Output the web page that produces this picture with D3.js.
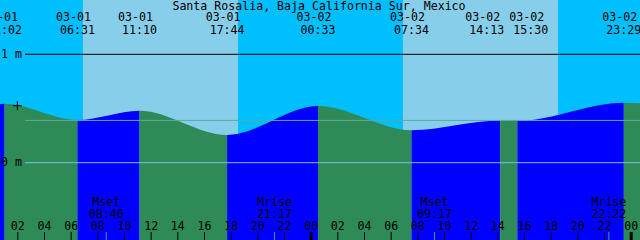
<!DOCTYPE html>
<html>
<head>
<meta charset="utf-8">
<script src="https://cdn.jsdelivr.net/npm/d3@7"></script>
<style>
  html, body { margin: 0; padding: 0; background: #fff; }
  svg { display: block; }
  text { font-family: "DejaVu Sans Mono", monospace; font-size: 11.6px; fill: #000; }
</style>
</head>
<body>
<script>
const width = 640;
const height = 240;

const title = 'Santa Rosalia, Baja California Sur, Mexico';

// high and low tides, heights in metres
const tideDates = ['03-01', '03-01', '03-01', '03-01', '03-02', '03-02', '03-02', '03-02', '03-02'];
const tideTimes = ['01:02', '06:31', '11:10', '17:44', '00:33', '07:34', '14:13', '15:30', '23:29'];
const tideHeights = [0.544, 0.394, 0.480, 0.256, 0.523, 0.300, 0.389, 0.385, 0.553];

// water level at the left and right edge of the graph
const edgeTimes = ['03-01 00:42', '03-03 00:42'];
const edgeHeights = [0.540, 0.548];

// sunrise, sunset, sunrise, sunset
const sunTimes = ['03-01 06:55', '03-01 18:33', '03-02 06:55', '03-02 18:33'];

const moonNames = ['Mset', 'Mrise', 'Mset', 'Mrise'];
const moonDates = ['03-01', '03-01', '03-02', '03-02'];
const moonTimes = ['08:40', '21:17', '09:17', '22:22'];

const levelValues = [1, 0];
const levelLabels = ['1 m', '0 m'];
const meanLevel = 0.39;

const nowTime = '03-01 02:00';
const nowHeight = 0.526;

const hourTicks = [2, 4, 6, 8, 10, 12, 14, 16, 18, 20, 22, 24, 26, 28, 30, 32, 34, 36, 38, 40, 42, 44, 46, 48]; // hours since 03-01 00:00

// "03-02 07:34" -> hours since 03-01 00:00
const toHours = (s) => {
  const day = +s.slice(3, 5);
  const hh = +s.slice(6, 8);
  const mm = +s.slice(9, 11);
  return (day - 1) * 24 + hh + mm / 60;
};

const x = d3.scaleLinear()
            .domain([toHours(edgeTimes[0]), toHours(edgeTimes[1])])
            .range([0, width]);

const y = d3.scaleLinear()
            .domain([0, 1])
            .range([162.7, 54.3]);

const svg = d3.select('body')
              .append('svg')
              .attr('width', width)
              .attr('height', height);

// sky: night everywhere, then daytime bands
svg.append('rect')
   .attr('width', width)
   .attr('height', height)
   .attr('fill', '#00bfff');

for (let i = 0; i < sunTimes.length; i += 2) {
  const x0 = x(toHours(sunTimes[i]));
  const x1 = x(toHours(sunTimes[i + 1]));
  svg.append('rect')
     .attr('x', x0)
     .attr('width', x1 - x0)
     .attr('height', height)
     .attr('fill', '#87ceeb');
}

// water under the tide curve
const pts = [{t: toHours(edgeTimes[0]), h: edgeHeights[0]}];
tideTimes.forEach((tm, i) => pts.push({t: toHours(tideDates[i] + ' ' + tm), h: tideHeights[i]}));
pts.push({t: toHours(edgeTimes[1]), h: edgeHeights[1]});

const area = d3.area()
               .x((d) => x(d.t))
               .y0(height)
               .y1((d) => y(d.h))
               .curve(d3.curveMonotoneX);

svg.append('clipPath')
   .attr('id', 'water')
   .append('path')
   .attr('d', area(pts));

const water = svg.append('g').attr('clip-path', 'url(#water)');

for (let i = 0; i < pts.length - 1; i++) {
  const x0 = x(pts[i].t);
  const x1 = x(pts[i + 1].t);
  water.append('rect')
       .attr('x', x0)
       .attr('width', x1 - x0)
       .attr('height', height)
       .attr('fill', pts[i + 1].h > pts[i].h ? '#0000ff' : '#2e8b57'); // flood blue, ebb green
}

// level lines
svg.append('line')
   .attr('x1', 25).attr('x2', width)
   .attr('y1', y(1)).attr('y2', y(1))
   .attr('stroke', '#000');

svg.append('line')
   .attr('x1', 25).attr('x2', width)
   .attr('y1', y(meanLevel)).attr('y2', y(meanLevel))
   .attr('stroke', '#5faaa0');

svg.append('line')
   .attr('x1', 25).attr('x2', width)
   .attr('y1', y(0)).attr('y2', y(0))
   .attr('stroke', '#7fbfdf');

levelValues.forEach((v, i) => {
  svg.append('text')
     .attr('x', 1)
     .attr('y', y(v) + 3.4)
     .text(levelLabels[i]);
});

// now marker
const nx = x(toHours(nowTime));
const ny = y(nowHeight);
svg.append('path')
   .attr('d', `M${nx - 4.5},${ny}H${nx + 4.5}M${nx},${ny - 4.5}V${ny + 4.5}`)
   .attr('stroke', '#000')
   .attr('fill', 'none');

// title
svg.append('text')
   .attr('x', 319)
   .attr('y', 10)
   .attr('text-anchor', 'middle')
   .text(title);

// tide labels, pushed apart when two events sit too close together
const labelX = tideTimes.map((tm, i) => x(toHours(tideDates[i] + ' ' + tm)));
const minGap = 44;
for (let i = 0; i < labelX.length - 1; i++) {
  if (labelX[i + 1] - labelX[i] < minGap) {
    const mid = (labelX[i] + labelX[i + 1]) / 2;
    labelX[i] = mid - minGap / 2;
    labelX[i + 1] = mid + minGap / 2;
  }
}

tideTimes.forEach((tm, i) => {
  svg.append('text')
     .attr('x', labelX[i] - 4).attr('y', 21.2)
     .attr('text-anchor', 'middle')
     .text(tideDates[i]);
  svg.append('text')
     .attr('x', labelX[i]).attr('y', 34.3)
     .attr('text-anchor', 'middle')
     .text(tm);
});

// moon rise / set
moonNames.forEach((name, i) => {
  const mx = x(toHours(moonDates[i] + ' ' + moonTimes[i]));
  svg.append('line')
     .attr('x1', mx).attr('x2', mx)
     .attr('y1', 232).attr('y2', height)
     .attr('stroke', '#4a9a70');
  svg.append('text')
     .attr('x', mx).attr('y', 206)
     .attr('text-anchor', 'middle')
     .text(name);
  svg.append('text')
     .attr('x', mx).attr('y', 218.3)
     .attr('text-anchor', 'middle')
     .text(moonTimes[i]);
});

// hour axis along the bottom
const axis = svg.append('g')
                .attr('transform', `translate(0,${height})`)
                .call(d3.axisTop(x)
                        .tickValues(hourTicks)
                        .tickSize(8)
                        .tickPadding(2.5)
                        .tickFormat((h) => String(h % 24).padStart(2, '0')));

axis.select('.domain').remove();
axis.attr('font-family', null).attr('font-size', null);
axis.selectAll('.tick line')
    .attr('stroke', '#000')
    .attr('stroke-width', (h) => h % 24 === 0 ? 3 : 1);
axis.selectAll('.tick text').attr('fill', '#000');
</script>
</body>
</html>
